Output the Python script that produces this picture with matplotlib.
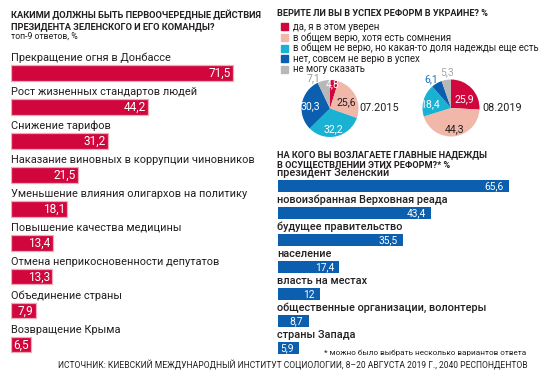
import matplotlib
matplotlib.use("Agg")
import matplotlib.pyplot as plt
from matplotlib.patches import Rectangle
import numpy as np

plt.rcParams['font.family'] = ['Roboto', 'DejaVu Sans']

# ---------------- data ----------------
left_title = ["КАКИМИ ДОЛЖНЫ БЫТЬ ПЕРВООЧЕРЕДНЫЕ ДЕЙСТВИЯ",
              "ПРЕЗИДЕНТА ЗЕЛЕНСКОГО И ЕГО КОМАНДЫ?"]
left_subtitle = "топ-9 ответов, %"
actions = ["Прекращение огня в Донбассе", "Рост жизненных стандартов людей",
           "Снижение тарифов", "Наказание виновных в коррупции чиновников",
           "Уменьшение влияния олигархов на политику", "Повышение качества медицины",
           "Отмена неприкосновенности депутатов", "Объединение страны",
           "Возвращение Крыма"]
action_values = [71.5, 44.2, 31.2, 21.5, 18.1, 13.4, 13.3, 7.9, 6.5]

pie_title = "ВЕРИТЕ ЛИ ВЫ В УСПЕХ РЕФОРМ В УКРАИНЕ? %"
belief_categories = ["да, я в этом уверен", "в общем верю, хотя есть сомнения",
                     "в общем не верю, но какая-то доля надежды еще есть",
                     "нет, совсем не верю в успех", "не могу сказать"]
belief_2015 = [4.8, 25.6, 32.2, 30.3, 7.1]
belief_2019 = [25.9, 44.3, 18.4, 6.1, 5.3]
pie_dates = ["07.2015", "08.2019"]

hope_title = ["НА КОГО ВЫ ВОЗЛАГАЕТЕ ГЛАВНЫЕ НАДЕЖДЫ",
              "В ОСУЩЕСТВЛЕНИИ ЭТИХ РЕФОРМ?* %"]
hope_groups = ["президент Зеленский", "новоизбранная Верховная реада",
               "будущее правительство", "население", "власть на местах",
               "общественные организации, волонтеры", "страны Запада"]
hope_values = [65.6, 43.4, 35.5, 17.4, 12, 8.7, 5.9]

footnote = "* можно было выбрать несколько вариантов ответа"
source = "ИСТОЧНИК: КИЕВСКИЙ МЕЖДУНАРОДНЫЙ ИНСТИТУТ СОЦИОЛОГИИ, 8–20 АВГУСТА 2019 Г., 2040 РЕСПОНДЕНТОВ"

# ---------------- style ----------------
W, H = 540, 380
RED = '#d1063d'
PINK = '#f1b8aa'
CYAN = '#19b2d2'
BLUE = '#0b5fae'
GREY = '#b8b8b8'
TXT = '#231f20'
pie_colors = [RED, PINK, CYAN, BLUE, GREY]

fig = plt.figure(figsize=(W / 100, H / 100), dpi=100)
fig.patch.set_facecolor('white')


def fx(x):
    return x / W


def fy(y):
    return 1 - y / H


def fmt(v):
    s = f"{v:.1f}".replace('.', ',')
    if s.endswith(',0'):
        s = s[:-2]
    return s


# ---------------- left bars ----------------
for k, line in enumerate(left_title):
    fig.text(fx(11), fy(18.5 + k * 10.6), line, ha='left', va='baseline',
             fontsize=6.7, fontweight='bold', color=TXT)
fig.text(fx(11), fy(38.3), left_subtitle, ha='left', va='baseline', fontsize=6.3,
         color=TXT)

sc_l = 3.105
top_l, sp_l = 73 - 33.94 / 2, 33.94
n_l = len(actions)
axL = fig.add_axes([fx(11), fy(top_l + n_l * sp_l), (265 - 11) / W, n_l * sp_l / H])
axL.set_xlim(0, 254 / sc_l)
axL.set_ylim(n_l - 0.5, -0.5)
axL.axis('off')
yl = np.arange(n_l)
axL.barh(yl, action_values, height=0.46, color=RED, edgecolor='#f0a9b8',
         linewidth=0.9)
for i, (lab, v) in enumerate(zip(actions, action_values)):
    axL.text(0, i - 0.35, lab, ha='left', va='baseline', fontsize=7.9, color=TXT)
    axL.text(v - 0.75, i + 0.02, fmt(v), ha='right', va='center', fontsize=8.6,
             color='white')

# ---------------- pies ----------------
fig.text(fx(277), fy(16.3), pie_title, ha='left', va='baseline', fontsize=6.6,
         fontweight='bold', color=TXT)
for k, (cat, col) in enumerate(zip(belief_categories, pie_colors)):
    yc = 26.7 + k * 10.65
    fig.patches.append(Rectangle((fx(281), fy(yc + 3.5)), 7 / W, 7 / H,
                                 transform=fig.transFigure, color=col))
    fig.text(fx(293), fy(yc), cat, ha='left', va='center', fontsize=6.9,
             color=TXT)

R = 28.5
pie_specs = [
    (belief_2015, (330, 108.5), (379, 108),
     [(0.86, -3, 'white'), (0.60, 6, TXT), (0.74, 4, 'white'),
      (0.68, -4, 'white'), (1.2, -16, '#9a9a9a')]),
    (belief_2019, (451, 108), (502, 108),
     [(0.56, 8, 'white'), (0.77, -3, TXT), (0.73, -6, 'white'),
      (1.22, -5, '#1a6fc0'), (1.25, 3, '#a8a8a8')]),
]
for (vals, (cx, cy), (dx, dy), lab_style), date in zip(pie_specs, pie_dates):
    half = 1.5 * R
    ax = fig.add_axes([fx(cx - half), fy(cy + half), 2 * half / W, 2 * half / H])
    ax.pie(vals, colors=pie_colors, startangle=90, counterclock=False,
           radius=1.0, wedgeprops=dict(linewidth=0))
    ax.set_xlim(-1.5, 1.5)
    ax.set_ylim(-1.5, 1.5)
    ax.set_aspect('equal')
    ax.axis('off')
    cum = np.cumsum([0] + list(vals))
    for j, v in enumerate(vals):
        mid = (cum[j] + cum[j + 1]) / 2 / sum(vals) * 360
        rf, dang, c = lab_style[j]
        a = np.deg2rad(mid + dang)
        ax.text(rf * np.sin(a), rf * np.cos(a), fmt(v), ha='center', va='center',
                fontsize=7.6, color=c)
    fig.text(fx(dx), fy(dy), date, ha='center', va='center', fontsize=7.8,
             color=TXT)

# ---------------- right bars ----------------
for k, line in enumerate(hope_title):
    fig.text(fx(277), fy(157 + k * 10.3), line, ha='left', va='baseline',
             fontsize=6.6, fontweight='bold', color=TXT)
sc_r = 3.52
sp_r = 27
top_r = 186 - sp_r / 2
n_r = len(hope_groups)
axR = fig.add_axes([fx(278), fy(top_r + n_r * sp_r), (535 - 278) / W, n_r * sp_r / H])
axR.set_xlim(0, 257 / sc_r)
axR.set_ylim(n_r - 0.5, -0.5)
axR.axis('off')
yr = np.arange(n_r)
axR.barh(yr, hope_values, height=0.46, color=BLUE, linewidth=0)
for i, (lab, v) in enumerate(zip(hope_groups, hope_values)):
    axR.text(-0.2, i - 0.37, lab, ha='left', va='baseline', fontsize=7.8,
             fontweight='medium', color=TXT)
    axR.text(v - 1.5, i + 0.02, fmt(v), ha='right', va='center', fontsize=7.4,
             color='white')

# ---------------- notes ----------------
fig.text(fx(526), fy(352.5), footnote, ha='right', va='center', fontsize=5.9,
         color=TXT)
fig.text(fx(292.5), fy(365.5), source, ha='center', va='center', fontsize=6.15,
         color=TXT)

fig.savefig('out.png', dpi=100, facecolor='white')
